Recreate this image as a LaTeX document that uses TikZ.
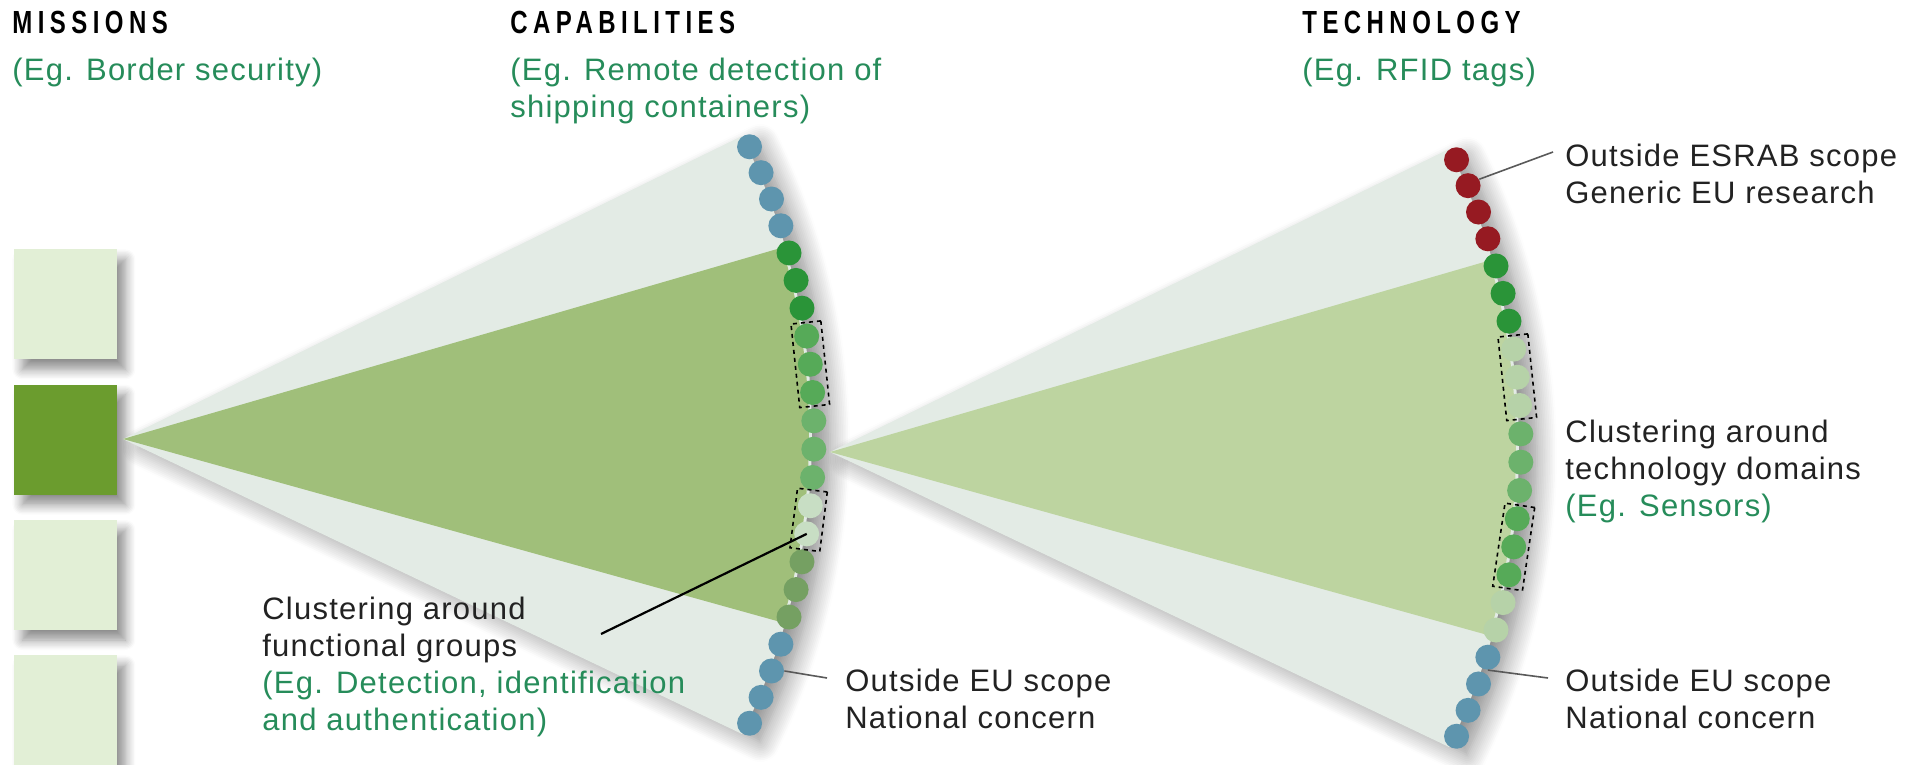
\documentclass[tikz,border=0pt]{standalone}
\usepackage{fontspec}
\setmainfont{Liberation Sans}
\newfontfamily\headfont[FakeStretch=0.75,LetterSpace=17]{Liberation Sans}
\newfontfamily\notefont[LetterSpace=4]{Liberation Sans}
\usetikzlibrary{positioning,shadows.blur}

\definecolor{fanlight}{RGB}{227,235,229}
\definecolor{capfan}{RGB}{160,191,122}
\definecolor{techfan}{RGB}{189,212,160}
\definecolor{misslight}{RGB}{226,239,214}
\definecolor{missdark}{RGB}{107,156,46}
\definecolor{dotblue}{RGB}{94,149,174}
\definecolor{dotred}{RGB}{150,26,34}
\definecolor{dotgreen}{RGB}{42,148,56}
\definecolor{dotmid}{RGB}{86,170,88}
\definecolor{dotsoft}{RGB}{108,178,108}
\definecolor{dotpale}{RGB}{200,222,196}
\definecolor{dotolive}{RGB}{117,160,98}
\definecolor{techpale}{RGB}{182,210,168}
\definecolor{egreen}{RGB}{38,140,90}
\definecolor{notegray}{RGB}{34,34,34}

\begin{document}
\begin{tikzpicture}[x=0.5pt,y=-0.5pt,node distance=67.65pt,
  mission node/.style={rectangle,minimum width=51.5pt,minimum height=55pt,inner sep=0pt,
    blur shadow={shadow xshift=4pt,shadow yshift=-5pt,shadow blur radius=5pt,shadow blur steps=8,shadow opacity=45}},
  fan shadow/.style={blur shadow={shadow xshift=9pt,shadow yshift=-4pt,shadow blur radius=10pt,shadow blur steps=12,shadow opacity=45}},
  dot node/.style={circle,minimum size=12.5pt,inner sep=0pt},
  group box/.style={rectangle,draw=black,dash pattern=on 2pt off 2pt,line width=0.8pt,minimum width=15pt,inner sep=0pt},
  head node/.style={anchor=base west,inner sep=0pt,font=\headfont\bfseries\fontsize{16}{18.5}\selectfont},
  note node/.style={anchor=base west,inner sep=0pt,align=left,text=notegray,font=\notefont\fontsize{15.5}{18.5}\selectfont},
  pointer/.style={draw=gray!70!black,line width=0.8pt}]

  \useasboundingbox (0,0) rectangle (1912,765);

  % missions
  \node[mission node,fill=misslight,anchor=north west] (m1) at (14,249) {};
  \node[mission node,fill=missdark] (m2) [below of=m1] {};
  \node[mission node,fill=misslight] (m3) [below of=m2] {};
  \node[mission node,fill=misslight] (m4) [below of=m3] {};

  % capabilities
  \coordinate (capapex) at (123,439);
  \coordinate (capctr) at (137,435);
  \path[fill=fanlight,fan shadow] (capapex) -- ([shift={(capctr)}]-26.3:675)
    arc[start angle=-26.3,end angle=26.3,radius=675] -- cycle;
  \fill[capfan] (capapex) -- ([shift={(capctr)}]-16.2:672)
    arc[start angle=-16.2,end angle=16.2,radius=672] -- cycle;

  \foreach \col [count=\i] in {dotblue,dotblue,dotblue,dotblue,dotgreen,dotgreen,dotgreen,
      dotmid,dotmid,dotmid,dotsoft,dotsoft,dotsoft,dotpale,dotpale,dotolive,dotolive,dotolive,
      dotblue,dotblue,dotblue,dotblue} {
    \pgfmathsetmacro\ang{-25.2+2.4*(\i-1)}
    \node[dot node,fill=\col] (c\i) at ([shift={(capctr)}]\ang:677) {};
  }
  \node[group box,minimum height=42pt,rotate=6] (cbox1) at (c9) {};
  \node[group box,minimum height=30pt,rotate=-7.2] (cbox2) at ([shift={(capctr)}]7.2:677) {};

  % technology
  \coordinate (techapex) at (830,452);
  \coordinate (techctr) at (844,448);
  \path[fill=fanlight,fan shadow] (techapex) -- ([shift={(techctr)}]-26.3:675)
    arc[start angle=-26.3,end angle=26.3,radius=675] -- cycle;
  \fill[techfan] (techapex) -- ([shift={(techctr)}]-16.2:672)
    arc[start angle=-16.2,end angle=16.2,radius=672] -- cycle;

  \foreach \col [count=\i] in {dotred,dotred,dotred,dotred,dotgreen,dotgreen,dotgreen,
      techpale,techpale,techpale,dotsoft,dotsoft,dotsoft,dotmid,dotmid,dotmid,techpale,techpale,
      dotblue,dotblue,dotblue,dotblue} {
    \pgfmathsetmacro\ang{-25.2+2.4*(\i-1)}
    \node[dot node,fill=\col] (t\i) at ([shift={(techctr)}]\ang:677) {};
  }
  \node[group box,minimum height=42pt,rotate=6] (tbox1) at (t9) {};
  \node[group box,minimum height=42pt,rotate=-8.4] (tbox2) at (t15) {};

  % headings (multi-line notes sit on their last baseline)
  \node[head node] (misshead) at (12,34) {MISSIONS};
  \node[note node,text=egreen] (missex) at (12,81) {(Eg. Border security)};
  \node[head node] (caphead) at (510,34) {CAPABILITIES};
  \node[note node,text=egreen] (capex) at (510,118) {(Eg. Remote detection of\\shipping containers)};
  \node[head node] (techhead) at (1302,34) {TECHNOLOGY};
  \node[note node,text=egreen] (techex) at (1302,81) {(Eg. RFID tags)};

  % notes
  \node[note node] (capcluster) at (262,730) {Clustering around\\functional groups\\
    \textcolor{egreen}{(Eg. Detection, identification}\\\textcolor{egreen}{and authentication)}};
  \node[note node] (capout) at (845,728) {Outside EU scope\\National concern};
  \node[note node] (techgen) at (1565,204) {Outside ESRAB scope\\Generic EU research};
  \node[note node] (techcluster) at (1565,516) {Clustering around\\technology domains\\
    \textcolor{egreen}{(Eg. Sensors)}};
  \node[note node] (techout) at (1565,728) {Outside EU scope\\National concern};

  \coordinate (funcend) at (601,634);
  \coordinate (capoutend) at (827,678);
  \coordinate (techgenend) at (1553,152);
  \coordinate (techoutend) at (1548,678);
  \draw[line width=1.1pt] (funcend) -- (c15.center);
  \draw[pointer] (c20.east) -- (capoutend);
  \draw[pointer] (t2.30) -- (techgenend);
  \draw[pointer] (t19.south) -- (techoutend);
\end{tikzpicture}
\end{document}
